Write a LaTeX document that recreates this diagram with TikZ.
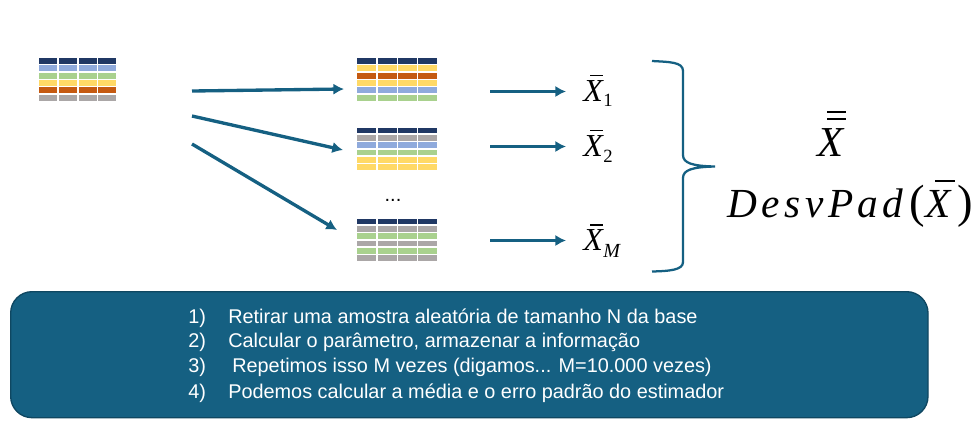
\documentclass[tikz,border=0pt]{standalone}
\usepackage{fontspec}
\setmainfont{Liberation Sans}
\newfontfamily\mathish{Liberation Serif}
\usetikzlibrary{arrows.meta}
\definecolor{teal}{HTML}{156082}
\definecolor{tealdark}{HTML}{0F4761}
\definecolor{cN}{HTML}{203864}
\definecolor{cB}{HTML}{8FAADC}
\definecolor{cG}{HTML}{A9D18E}
\definecolor{cY}{HTML}{FFD966}
\definecolor{cO}{HTML}{C55A11}
\definecolor{cK}{HTML}{ABA7A7}
\newcommand{\tbl}[5]{% x, y, pitch, width, colours
  \foreach \c [count=\r from 0] in {#5}{
    \foreach \k in {0,1,2,3}{
      \fill[\c] ({#1+\k*#3},{#2+\r*7.35}) rectangle ++(#4,5.9);
    }
  }
}
\tikzset{
  flow/.style={draw=teal,line width=2.5pt,-{Latex[length=8pt,width=8.5pt]}},
  steps/.style={text=white,font=\fontsize{14.9pt}{18pt}\selectfont,anchor=base west,inner sep=0pt},
  mth/.style={font=\mathish,inner sep=0pt,text=black,anchor=base west},
  xsym/.style={mth,font=\mathish\itshape\fontsize{24pt}{24pt}\selectfont},
  xsub/.style={mth,font=\mathish\fontsize{14pt}{14pt}\selectfont},
  paren/.style={mth,font=\mathish\fontsize{35pt}{35pt}\selectfont},
  bar/.style={fill=black},
}
\begin{document}
\begin{tikzpicture}[x=0.75pt,y=-0.75pt]
\useasboundingbox (0,0) rectangle (980,430);
\tbl{39.3}{58}{19.7}{18}{cN,cB,cG,cY,cO,cK}
\tbl{357.3}{58}{20.3}{19}{cN,cY,cO,cY,cB,cG}
\tbl{357.3}{127.5}{20.3}{19}{cN,cK,cB,cG,cY,cY}
\tbl{357.3}{218.5}{20.3}{19}{cN,cK,cG,cK,cG,cK}
\coordinate (a0) at (192,91);
\coordinate (a1) at (344,89);
\coordinate (b0) at (192,116);
\coordinate (b1) at (343,150);
\coordinate (c0) at (192,144);
\coordinate (c1) at (337,230);
\draw[flow] (a0) -- (a1);
\draw[flow] (b0) -- (b1);
\draw[flow] (c0) -- (c1);
\node[font=\fontsize{15pt}{15pt}\selectfont,inner sep=0pt,anchor=base] (dots) at (393,201) {...};
\coordinate (d0) at (490,91.5);
\coordinate (d1) at (566,91.5);
\coordinate (e0) at (490,146.5);
\coordinate (e1) at (566,146.5);
\coordinate (f0) at (490,240.5);
\coordinate (f1) at (566,240.5);
\draw[flow] (d0) -- (d1);
\draw[flow] (e0) -- (e1);
\draw[flow] (f0) -- (f1);
\node[xsym] (x1) at (583,101) {X};
\node[xsub] (s1) at (603,106) {1};
\fill[bar] (590,74.5) rectangle (603,76);
\node[xsym] (x2) at (583,156) {X};
\node[xsub] (s2) at (603,162) {2};
\fill[bar] (590,129.5) rectangle (603,131);
\node[xsym] (xm) at (583,250) {X};
\node[xsub,font=\mathish\itshape\fontsize{15pt}{15pt}\selectfont] (sm) at (603,257) {M};
\fill[bar] (590,224) rectangle (603,225.5);
\draw[teal,line width=1.7pt] (652,61) .. controls (670,62) and (683,62) .. (683,71) -- (683,155)
  .. controls (683,163) and (692,166) .. (715,166.5)
  .. controls (692,167) and (683,170) .. (683,178) -- (683,262)
  .. controls (683,270) and (670,271) .. (652,271.5);
\node[mth,font=\mathish\itshape\fontsize{32pt}{32pt}\selectfont] (mean) at (817,156) {X};
\fill[bar] (827,110.5) rectangle (846,112.5);
\fill[bar] (827,118) rectangle (846,120);
\node[mth,font=\mathish\itshape\fontsize{31pt}{31pt}\selectfont] (desv) at (727,217) {D\kern3.4pt e\kern3.4pt s\kern3.4pt v\kern3.4pt P\kern3.2pt a\kern3.4pt d};
\node[paren] (po) at (909,217) {(};
\node[mth,font=\mathish\itshape\fontsize{31pt}{31pt}\selectfont] (dx) at (925,217) {X};
\node[paren] (pc) at (957,217) {)};
\fill[bar] (935,179.5) rectangle (955,181.5);
\node[draw=tealdark,fill=teal,line width=1pt,rounded corners=16pt,minimum width=688pt,minimum height=94.5pt,inner sep=0pt,anchor=north west] (box) at (10,291) {};
\node[steps] (n1) at (188,323) {1)};
\node[steps] (n2) at (188,347) {2)};
\node[steps] (n3) at (188,372) {3)};
\node[steps] (n4) at (188,398) {4)};
\node[steps] (t1) at (228,323) {Retirar uma amostra aleatória de tamanho N da base};
\node[steps] (t2) at (228,347) {Calcular o parâmetro, armazenar a informação};
\node[steps] (t3) at (232,372) {Repetimos isso M vezes (digamos... M=10.000 vezes)};
\node[steps] (t4) at (228,398) {Podemos calcular a média e o erro padrão do estimador};
\end{tikzpicture}
\end{document}
